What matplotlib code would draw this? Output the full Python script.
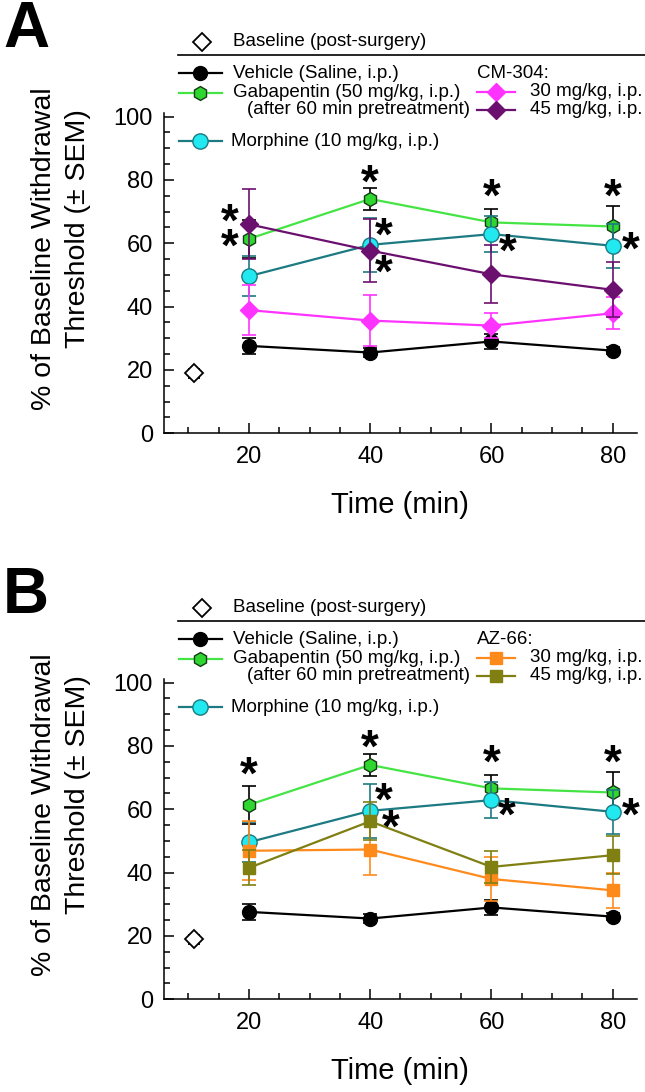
import matplotlib.pyplot as plt
from matplotlib.lines import Line2D
from matplotlib.ticker import MultipleLocator

plt.rcParams['font.family'] = ['Liberation Sans', 'DejaVu Sans']

# time points (min) and the post-surgery baseline
time = [20, 40, 60, 80]
base_x = [11]
base_y = [18.9]
base_err = [1.5]

# shared groups (same in both panels)
veh = [27.6, 25.5, 29.0, 26.1]
veh_err = [2.5, 1.5, 2.5, 1.2]
gaba = [61.4, 74.0, 66.6, 65.3]
gaba_err = [6.0, 3.5, 4.3, 6.5]
morph = [49.6, 59.5, 62.9, 59.2]
morph_err = [6.3, 8.5, 5.7, 7.0]

# panel A: CM-304
cm30 = [38.9, 35.6, 34.0, 37.9]
cm30_err = [8.0, 8.0, 4.0, 5.0]
cm45 = [66.0, 57.7, 50.2, 45.3]
cm45_err = [11.0, 10.0, 9.2, 8.7]

# panel B: AZ-66
az30 = [46.9, 47.3, 38.0, 34.4]
az30_err = [9.3, 8.0, 7.0, 5.5]
az45 = [41.5, 56.2, 41.8, 45.5]
az45_err = [5.5, 6.0, 5.0, 6.0]

# significance stars (x, y)
stars_a_x = [16.8, 16.8, 40, 42.2, 42.2, 60, 62.7, 80, 83.0]
stars_a_y = [67.9, 60.0, 80.0, 63.2, 51.6, 75.5, 58.4, 75.5, 58.9]
stars_b_x = [20, 40, 42.2, 43.4, 60, 62.6, 80, 82.9]
stars_b_y = [71.8, 80.5, 63.6, 55.2, 75.5, 58.9, 75.5, 58.9]

GREEN_LINE = '#44e444'
GREEN_FILL = '#2fd62f'
CYAN_FILL = '#22e8f0'
TEAL = '#1c7a82'
MAGENTA = '#ff33ff'
PURPLE = '#6c106f'
ORANGE = '#ff8a1c'
OLIVE = '#7f7f12'

W, H = 645, 1092
fig = plt.figure(figsize=(W / 100, H / 100), dpi=100)


def fx(x):
    return x / W


def fy(y):
    return 1 - y / H


def series(ax, y, err, color, ecolor, marker, mfc, mec, ms, z):
    ax.errorbar(time, y, yerr=err, fmt='none', ecolor=ecolor, elinewidth=1.2,
                capsize=5, capthick=1.2, zorder=z, clip_on=False)
    ax.plot(time, y, color=color, lw=1.6, marker=marker, mfc=mfc, mec=mec,
            ms=ms, mew=1.0, zorder=z + 0.5, clip_on=False)


def leg_entry(x0, x1, y, color, marker, mfc, mec, ms, label, tx):
    fig.add_artist(Line2D([fx(x0), fx(x1)], [fy(y), fy(y)], color=color, lw=1.6))
    fig.add_artist(Line2D([fx((x0 + x1) / 2)], [fy(y)], marker=marker, mfc=mfc,
                          mec=mec, ms=ms, mew=1.0, lw=0))
    fig.text(fx(tx), fy(y), label, fontsize=13.5, va='center', ha='left')


def panel(dy, letter, drug, d30, d30_err, d45, d45_err, c30, c45, mk, mk_ms, sx, sy):
    bottom = 433.3 + dy
    top = bottom - 101 * 3.167
    ax = fig.add_axes([fx(164), fy(bottom), (637 - 164) / W, (bottom - top) / H])
    ax.set_xlim(6, 84)
    ax.set_ylim(0, 101)
    for s in ['top', 'right']:
        ax.spines[s].set_visible(False)
    for s in ['left', 'bottom']:
        ax.spines[s].set_linewidth(1.1)
    ax.set_xticks(time)
    ax.xaxis.set_minor_locator(MultipleLocator(5))
    ax.set_yticks([0, 20, 40, 60, 80, 100])
    ax.yaxis.set_minor_locator(MultipleLocator(5))
    ax.tick_params(which='both', direction='in', labelsize=17, width=1.1)
    ax.tick_params(which='major', length=7)
    ax.tick_params(which='minor', length=4.5)
    ax.tick_params(axis='x', pad=9)
    ax.tick_params(axis='y', pad=8)

    ax.errorbar(base_x, base_y, yerr=base_err, fmt='D', ms=9, mfc='white',
                mec='black', mew=1.3, ecolor='black', elinewidth=1.0, capsize=4,
                zorder=3)
    series(ax, veh, veh_err, 'black', 'black', 'o', 'black', 'black', 10, 3)
    series(ax, gaba, gaba_err, GREEN_LINE, 'black', 'h', GREEN_FILL, '#163a16', 10, 4)
    series(ax, morph, morph_err, TEAL, TEAL, 'o', CYAN_FILL, TEAL, 11, 5)
    series(ax, d30, d30_err, c30, c30, mk, c30, c30, mk_ms, 6)
    series(ax, d45, d45_err, c45, c45, mk, c45, c45, mk_ms, 7)

    for x, y in zip(sx, sy):
        ax.text(x, y, '*', fontsize=33, fontweight='bold', ha='center',
                va='center_baseline', zorder=10)

    # axis labels and panel letter
    fig.text(fx(400), fy(505 + dy), 'Time (min)', fontsize=21, ha='center', va='center')
    fig.text(fx(44), fy(249 + dy), '% of Baseline Withdrawal', fontsize=20.5,
             rotation=90, ha='center', va='center')
    fig.text(fx(78), fy(229 + dy), 'Threshold (\u00b1 SEM)', fontsize=20.5,
             rotation=90, ha='center', va='center')
    fig.text(fx(3), fy(30 + dy), letter, fontsize=46, fontweight='bold',
             ha='left', va='center')

    # legend block
    fig.add_artist(Line2D([fx(202)], [fy(42 + dy)], marker='D', ms=9, mfc='white',
                          mec='black', mew=1.3, lw=0))
    fig.text(fx(233), fy(42 + dy), 'Baseline (post-surgery)', fontsize=13.5,
             va='center', ha='left')
    fig.add_artist(Line2D([fx(178), fx(645)], [fy(55 + dy), fy(55 + dy)],
                          color='black', lw=1.2))
    leg_entry(179, 222, 73 + dy, 'black', 'o', 'black', 'black', 10,
              'Vehicle (Saline, i.p.)', 233)
    leg_entry(179, 222, 92.5 + dy, GREEN_LINE, 'h', GREEN_FILL, '#163a16', 10,
              'Gabapentin (50 mg/kg, i.p.)', 233)
    fig.text(fx(247), fy(110 + dy), '(after 60 min pretreatment)', fontsize=13.5,
             va='center', ha='left')
    leg_entry(179, 222, 141 + dy, TEAL, 'o', CYAN_FILL, TEAL, 11,
              'Morphine (10 mg/kg, i.p.)', 231)
    fig.text(fx(477), fy(73 + dy), drug, fontsize=13.5, va='center', ha='left')
    leg_entry(477, 515, 92 + dy, c30, mk, c30, c30, mk_ms, '30 mg/kg, i.p.', 530)
    leg_entry(477, 515, 110 + dy, c45, mk, c45, c45, mk_ms, '45 mg/kg, i.p.', 530)
    return ax


panel(0, 'A', 'CM-304:', cm30, cm30_err, cm45, cm45_err, MAGENTA, PURPLE,
      'D', 9, stars_a_x, stars_a_y)
panel(566, 'B', 'AZ-66:', az30, az30_err, az45, az45_err, ORANGE, OLIVE,
      's', 9, stars_b_x, stars_b_y)

fig.savefig('out.png', dpi=100)
